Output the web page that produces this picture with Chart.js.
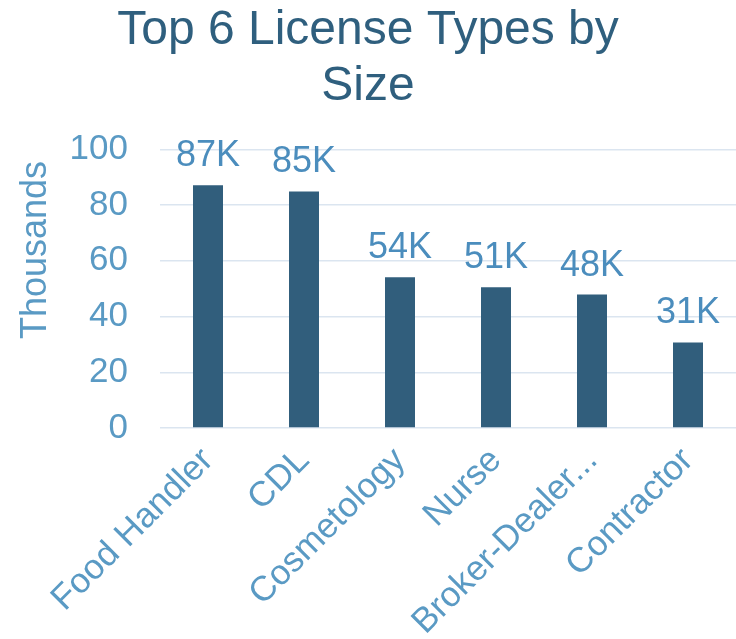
<!DOCTYPE html>
<html>
<head>
<meta charset="utf-8">
<script src="https://cdn.jsdelivr.net/npm/chart.js@4.4.1/dist/chart.umd.min.js"></script>
<style>
  html, body { margin: 0; padding: 0; background: #fff; }
  #wrap { width: 736px; height: 639px; }
</style>
</head>
<body>
<div id="wrap"><canvas id="chart"></canvas></div>
<script>
// license types and counts (thousands)
var categories = ["Food Handler", "CDL", "Cosmetology", "Nurse", "Broker-Dealer...", "Contractor"];
var counts = [87.1, 84.9, 54.1, 50.5, 47.9, 30.7];
var yTicks = [0, 20, 40, 60, 80, 100];

var FONT = "'Liberation Sans', Arial, sans-serif";
var dark = "#2f5f7e";
var light = "#5a9ac4";

// draws the "87K" style labels above bars and the rotated axis title
var barLabels = {
  id: "barLabels",
  afterDatasetsDraw: function (chart) {
    var ctx = chart.ctx;
    var meta = chart.getDatasetMeta(0);
    ctx.save();
    ctx.font = "36px " + FONT;
    ctx.fillStyle = "#4b8dbd";
    ctx.textAlign = "center";
    ctx.textBaseline = "alphabetic";
    meta.data.forEach(function (bar, i) {
      ctx.fillText(Math.round(counts[i]) + "K", bar.x, bar.y - 19);
    });
    // y axis title
    ctx.translate(36, 250);
    ctx.rotate(-Math.PI / 2);
    ctx.font = "36px " + FONT;
    ctx.fillStyle = light;
    ctx.textBaseline = "middle";
    ctx.fillText("Thousands", 0, 0);
    ctx.restore();
  }
};

new Chart(document.getElementById("chart"), {
  type: "bar",
  data: {
    labels: categories,
    datasets: [{
      data: counts,
      backgroundColor: "#315e7c",
      barPercentage: 0.3125,
      categoryPercentage: 1
    }]
  },
  options: {
    responsive: true,
    maintainAspectRatio: false,
    animation: false,
    layout: { padding: 0 },
    plugins: {
      legend: { display: false },
      tooltip: { enabled: false },
      title: {
        display: true,
        text: ["Top 6 License Types by", "Size"],
        color: dark,
        font: { family: FONT, size: 48, weight: "normal", lineHeight: 1.17 },
        padding: { top: 3, bottom: 34 }
      }
    },
    scales: {
      x: {
        afterFit: function (scale) { scale.height = 211; },
        grid: { display: false },
        border: { display: false },
        ticks: {
          color: light,
          font: { family: FONT, size: 35 },
          maxRotation: 45,
          minRotation: 45,
          autoSkip: false,
          padding: 4
        }
      },
      y: {
        min: 0,
        max: 100,
        afterBuildTicks: function (scale) {
          scale.ticks = yTicks.map(function (v) { return { value: v }; });
        },
        afterFit: function (scale) { scale.width = 160; },
        grid: { color: "#dbe5f0", lineWidth: 1.5, drawTicks: false },
        border: { display: false },
        ticks: {
          color: light,
          font: { family: FONT, size: 35 },
          padding: 32
        }
      }
    }
  },
  plugins: [barLabels]
});
</script>
</body>
</html>
